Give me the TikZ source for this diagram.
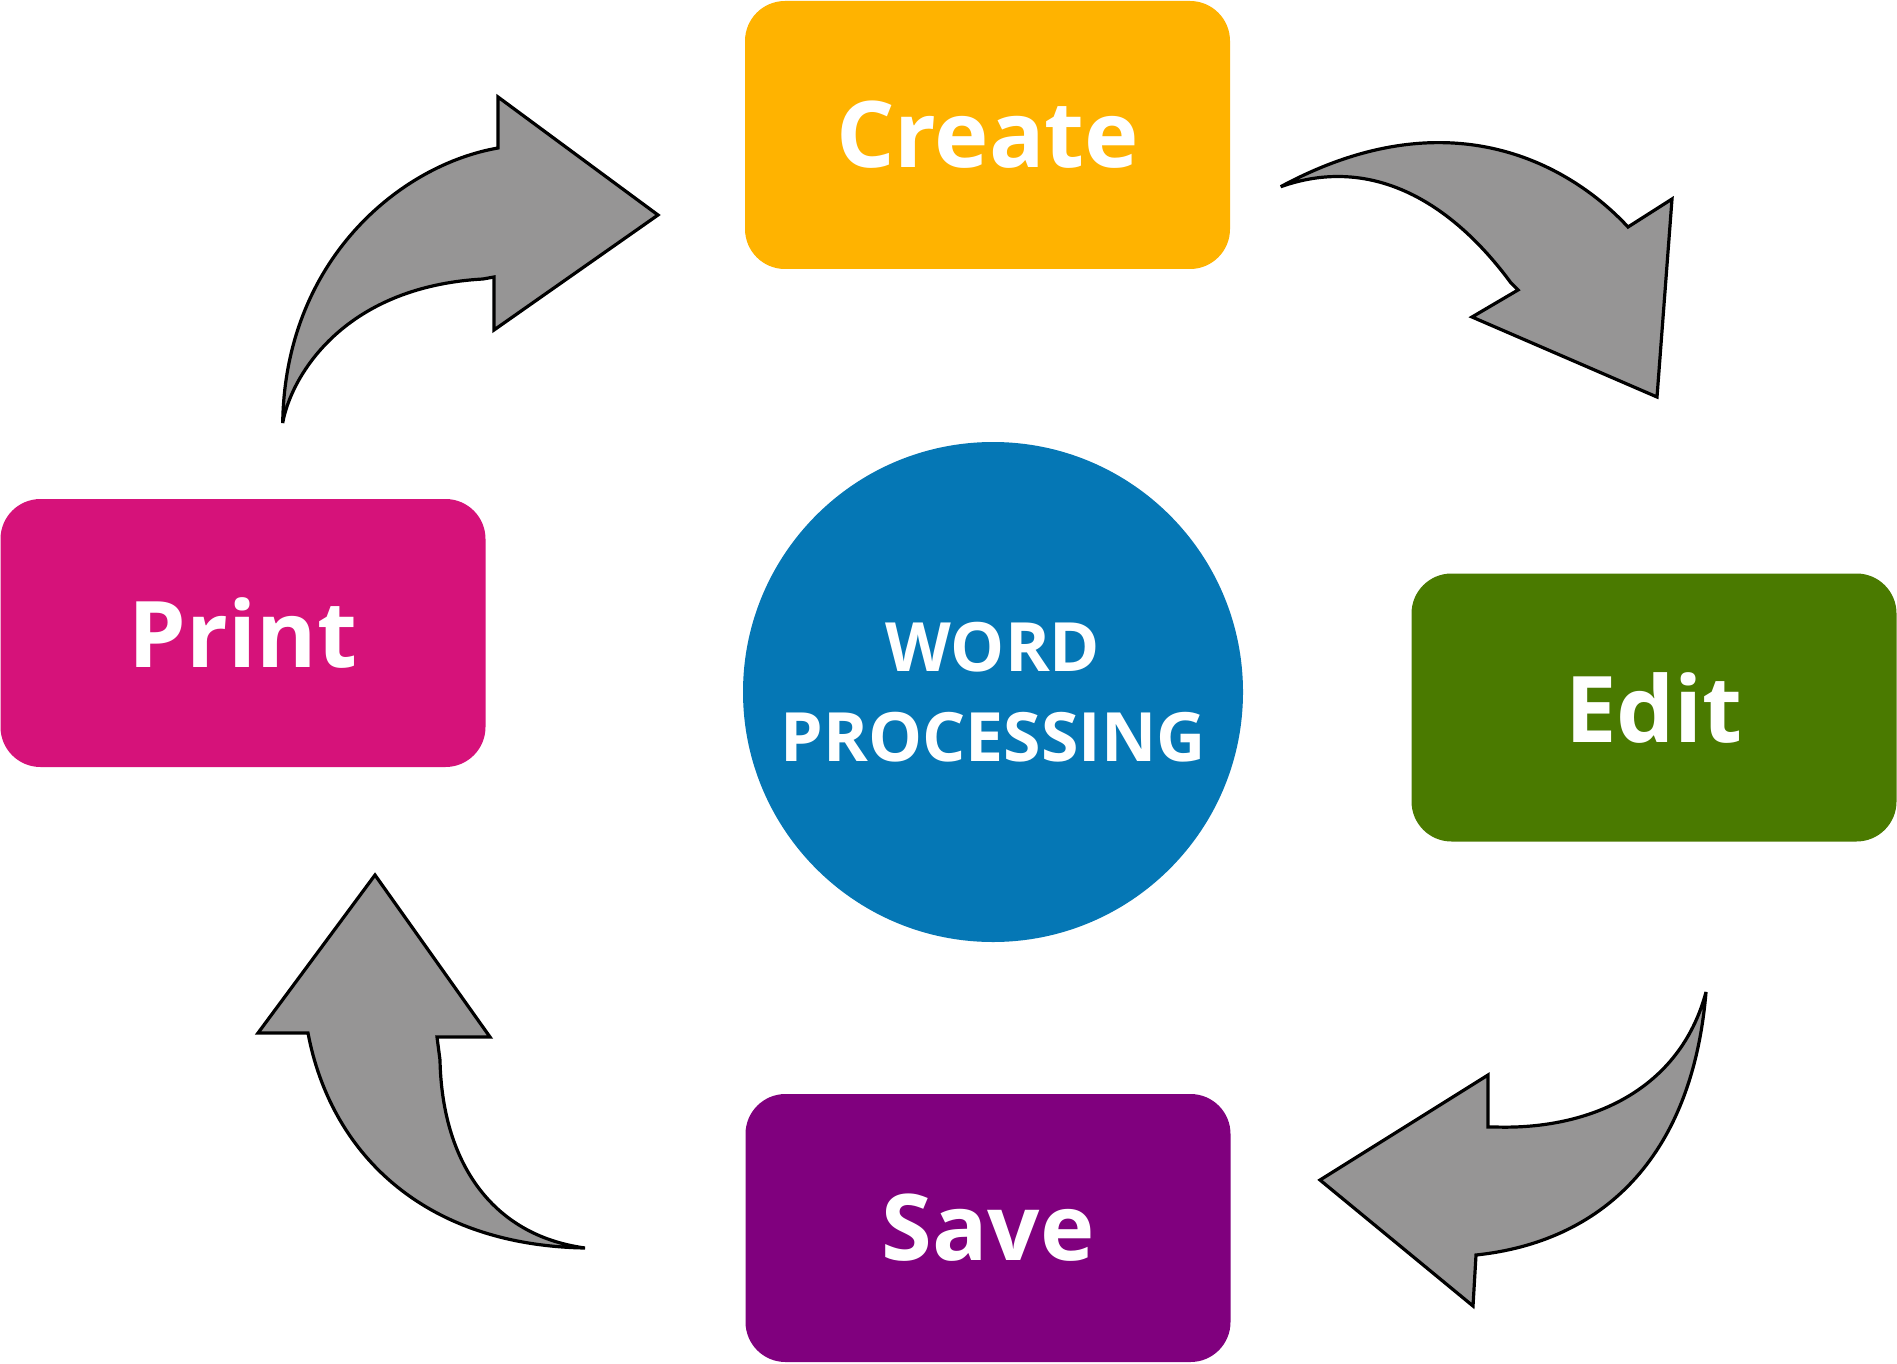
\documentclass[tikz,border=0pt]{standalone}
\usepackage{fontspec}
\setmainfont{Open Sans}
\definecolor{arrowgray}{RGB}{150,149,149}
\definecolor{createc}{RGB}{255,179,0}
\definecolor{printc}{RGB}{214,18,122}
\definecolor{editc}{RGB}{74,122,0}
\definecolor{savec}{RGB}{128,0,126}
\definecolor{circc}{RGB}{5,119,181}
\begin{document}
\begin{tikzpicture}[x=1pt,y=-1pt]
\tikzset{
  box/.style={rounded corners=40pt, minimum width=485pt, minimum height=268pt, inner sep=0pt, text=white, font=\fontsize{92}{92}\selectfont\bfseries},
  blockarrow/.style={fill=arrowgray, draw=black, line width=3.2pt, line join=miter}
}
\fill[white] (0,0) rectangle (1897,1364);
\useasboundingbox (0,0) rectangle (1897,1364);
\node[box, fill=createc] (create) at (987.5,135) {Create};
\node[box, fill=printc] (print) at (243,633) {Print};
\node[box, fill=editc] (edit) at (1654,707.5) {Edit};
\node[box, fill=savec] (save) at (988,1228) {Save};
\node[circle, fill=circc, minimum size=500pt, inner sep=0pt, text=white, align=center,
      font=\fontsize{68}{90}\selectfont\bfseries] (center) at (993,692) {WORD\\PROCESSING};
% Print -> Create
\draw[blockarrow] (282.7,423) .. controls (285,260) and (400,165) .. (498,148) -- (498,97) -- (658,215) -- (494,330) -- (494,277) -- (483,279) .. controls (340,287) and (290,380) .. cycle;
% Create -> Edit
\draw[blockarrow] (1280.7,186.7) .. controls (1460,90) and (1580,175) .. (1628,227) -- (1672,199) -- (1657,397) -- (1472,317) -- (1518,290) -- (1511,283) .. controls (1450,200) and (1370,155) .. cycle;
% Edit -> Save
\draw[blockarrow] (1706,992) .. controls (1680,1090) and (1590,1130) .. (1495,1127) -- (1488,1127) -- (1488,1075) -- (1320,1180) -- (1473,1306) -- (1476,1255) .. controls (1600,1242) and (1692,1160) .. cycle;
% Save -> Print
\draw[blockarrow] (585,1248) .. controls (490,1235) and (442,1160) .. (440,1060) -- (437,1037) -- (490,1037) -- (375,875) -- (258,1033) -- (308,1033) .. controls (330,1150) and (420,1245) .. cycle;
\end{tikzpicture}
\end{document}
